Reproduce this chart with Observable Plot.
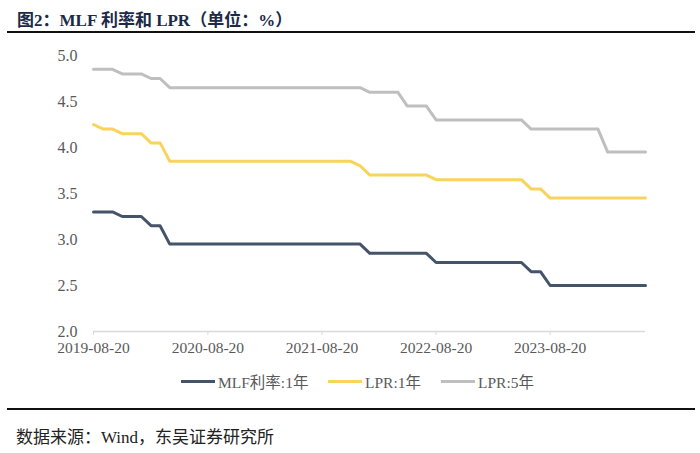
<!DOCTYPE html>
<html>
<head>
<meta charset="utf-8">
<script src="https://cdn.jsdelivr.net/npm/d3@7"></script>
<script src="https://cdn.jsdelivr.net/npm/@observablehq/plot@0.6"></script>
<style>
  html, body { margin: 0; padding: 0; background: #fff; }
  #root { position: relative; width: 700px; height: 453px; overflow: hidden; }
  #title { position: absolute; left: 17px; top: 6px; font-family: "Liberation Serif", "Noto Sans CJK SC", serif; font-weight: bold; font-size: 17px; color: #1c2a48; white-space: nowrap; }
  #rule1 { position: absolute; left: 7px; width: 688px; top: 31px; height: 2px; background: #111; }
  #rule2 { position: absolute; left: 7px; width: 688px; top: 408px; height: 2px; background: #111; }
  #chart { position: absolute; left: 0; top: 0; }
  #chart svg text { font-family: "Liberation Serif", serif !important; fill: #595959; }
  #legend { position: absolute; left: 0; top: 370px; width: 700px; height: 22px; font-family: "Liberation Serif", "Noto Sans CJK SC", serif; font-size: 15.5px; color: #595959; }
  .item { position: absolute; top: 0; display: flex; align-items: center; height: 22px; white-space: nowrap; }
  .swatch { display: inline-block; width: 34px; height: 3px; margin-right: 3px; }
  #source { position: absolute; left: 16px; top: 423px; font-family: "Liberation Serif", "Noto Sans CJK SC", serif; font-size: 17px; color: #222; white-space: nowrap; }
</style>
</head>
<body>
<div id="root">
  <div id="title"></div>
  <div id="rule1"></div>
  <div id="chart"></div>
  <div id="legend"></div>
  <div id="rule2"></div>
  <div id="source"></div>
</div>
<script>
// ---- data (monthly, 20th of each month, 2019-08 .. 2024-06) ----
const startYear = 2019, startMonth = 8, monthCount = 59;
const mlf1y = [3.30,3.30,3.30,3.25,3.25,3.25,3.15,3.15,
  2.95,2.95,2.95,2.95,2.95,2.95,2.95,2.95,2.95,2.95,2.95,2.95,2.95,2.95,2.95,2.95,2.95,2.95,2.95,2.95,2.95,
  2.85,2.85,2.85,2.85,2.85,2.85,2.85,
  2.75,2.75,2.75,2.75,2.75,2.75,2.75,2.75,2.75,2.75,
  2.65,2.65,
  2.50,2.50,2.50,2.50,2.50,2.50,2.50,2.50,2.50,2.50,2.50];
const lpr1y = [4.25,4.20,4.20,4.15,4.15,4.15,4.05,4.05,
  3.85,3.85,3.85,3.85,3.85,3.85,3.85,3.85,3.85,3.85,3.85,3.85,3.85,3.85,3.85,3.85,3.85,3.85,3.85,3.85,
  3.80,
  3.70,3.70,3.70,3.70,3.70,3.70,3.70,
  3.65,3.65,3.65,3.65,3.65,3.65,3.65,3.65,3.65,3.65,
  3.55,3.55,
  3.45,3.45,3.45,3.45,3.45,3.45,3.45,3.45,3.45,3.45,3.45];
const lpr5y = [4.85,4.85,4.85,4.80,4.80,4.80,4.75,4.75,
  4.65,4.65,4.65,4.65,4.65,4.65,4.65,4.65,4.65,4.65,4.65,4.65,4.65,4.65,4.65,4.65,4.65,4.65,4.65,4.65,4.65,
  4.60,4.60,4.60,4.60,
  4.45,4.45,4.45,
  4.30,4.30,4.30,4.30,4.30,4.30,4.30,4.30,4.30,4.30,
  4.20,4.20,4.20,4.20,4.20,4.20,4.20,4.20,
  3.95,3.95,3.95,3.95,3.95];
const seriesNames = ["MLF利率:1年", "LPR:1年", "LPR:5年"];
const seriesColors = ["#44546a", "#f9d45c", "#bfbfbf"];
const xTickLabels = ["2019-08-20", "2020-08-20", "2021-08-20", "2022-08-20", "2023-08-20"];
const yTicks = [2.0, 2.5, 3.0, 3.5, 4.0, 4.5, 5.0];
const titleText = "图2：MLF 利率和 LPR（单位：%）";
const sourceText = "数据来源：Wind，东吴证券研究所";

// ---- build table ----
const dates = d3.range(monthCount).map(i => new Date(Date.UTC(startYear, startMonth - 1 + i, 20)));
const allSeries = [mlf1y, lpr1y, lpr5y];
const rows = [];
allSeries.forEach((vals, s) => vals.forEach((v, i) => rows.push({date: dates[i], value: v, series: seriesNames[s]})));
const xTicks = xTickLabels.map(s => new Date(s + "T00:00:00Z"));

const chart = Plot.plot({
  width: 700,
  height: 370,
  marginLeft: 93,
  marginRight: 55,
  marginTop: 55,
  marginBottom: 39,
  style: { fontFamily: "'Liberation Serif', serif", fontSize: "15.5px", color: "#595959", background: "transparent" },
  x: { type: "utc", domain: [dates[0], dates[dates.length - 1]] },
  y: { domain: [2, 5] },
  color: { domain: seriesNames, range: seriesColors },
  marks: [
    Plot.ruleY([2], { stroke: "#d9d9d9", strokeWidth: 1.3 }),
    Plot.axisY({ ticks: yTicks, tickFormat: d3.format(".1f"), tickSize: 0, tickPadding: 16, label: null, fontSize: 16 }),
    Plot.axisX({ ticks: xTicks, tickFormat: d3.utcFormat("%Y-%m-%d"), tickSize: 4, tickPadding: 6, stroke: "#d9d9d9", label: null }),
    Plot.line(rows, { x: "date", y: "value", z: "series", stroke: "series", strokeWidth: 3, curve: "linear" })
  ]
});
document.getElementById("chart").appendChild(chart);

// ---- title, legend, source ----
document.getElementById("title").textContent = titleText;
document.getElementById("source").textContent = sourceText;
const legendX = [181, 328, 441];
const legend = document.getElementById("legend");
seriesNames.forEach((name, i) => {
  const item = document.createElement("div");
  item.className = "item";
  item.style.left = legendX[i] + "px";
  const sw = document.createElement("span");
  sw.className = "swatch";
  sw.style.background = seriesColors[i];
  const t = document.createElement("span");
  t.textContent = name;
  item.appendChild(sw);
  item.appendChild(t);
  legend.appendChild(item);
});
</script>
</body>
</html>
